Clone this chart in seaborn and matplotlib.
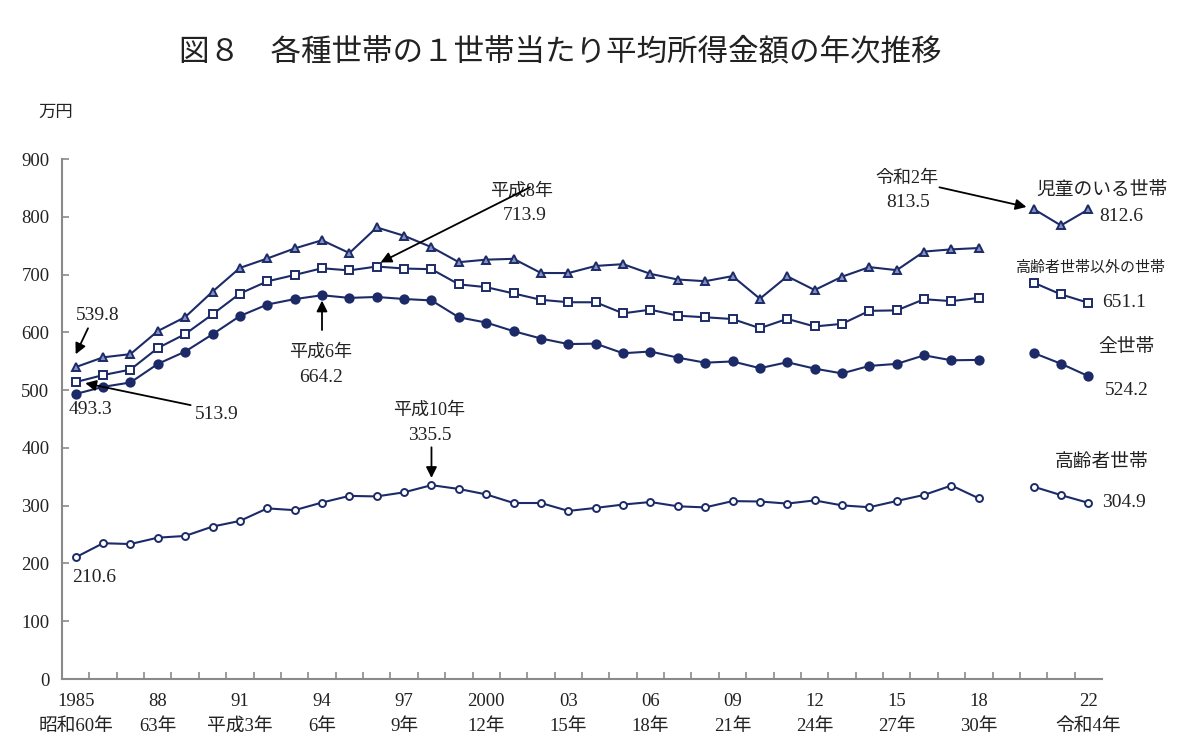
import numpy as np
import pandas as pd
import matplotlib
matplotlib.use("Agg")
import matplotlib.pyplot as plt
import seaborn as sns

years = list(range(1985, 2023))

# 2019 is missing (no survey), kept as NaN to break the line
children = [539.8, 556.7, 562.3, 602.2, 626.4, 670.4, 711.5, 727.8, 745.2, 759.4,
            737.2, 781.6, 767.1, 747.4, 721.4, 725.8, 727.2, 702.7, 702.6, 714.9,
            718.0, 701.2, 691.4, 688.5, 697.3, 658.1, 697.0, 673.2, 696.3, 712.9,
            707.6, 739.8, 743.6, 745.9, np.nan, 813.5, 785.0, 812.6]
non_elderly = [513.9, 526.0, 535.5, 572.8, 597.0, 631.2, 667.1, 688.2, 699.3, 710.9,
               707.2, 713.9, 710.4, 709.3, 683.0, 678.2, 667.3, 656.3, 652.1, 652.0,
               632.9, 639.2, 628.8, 626.1, 623.0, 607.2, 623.3, 610.1, 614.7, 637.2,
               638.0, 657.3, 654.0, 659.6, np.nan, 686.0, 665.7, 651.1]
all_households = [493.3, 505.6, 513.2, 545.3, 566.7, 596.6, 628.2, 648.1, 657.5, 664.2,
                  659.6, 661.2, 657.7, 655.2, 626.0, 616.9, 602.0, 589.3, 579.7, 580.4,
                  563.8, 566.8, 556.2, 547.5, 549.6, 538.0, 548.2, 537.2, 528.9, 541.9,
                  545.4, 560.2, 551.6, 552.3, np.nan, 564.3, 545.7, 524.2]
elderly = [210.6, 235.0, 233.6, 244.6, 247.6, 263.8, 273.6, 295.3, 292.2, 305.4,
           316.9, 316.0, 323.1, 335.5, 328.9, 319.5, 304.6, 304.6, 290.9, 296.1,
           301.9, 306.3, 298.9, 297.0, 307.9, 307.2, 303.6, 309.1, 300.5, 297.3,
           308.1, 318.6, 334.9, 312.6, np.nan, 332.9, 318.3, 304.9]

tick_years = [1985, 1988, 1991, 1994, 1997, 2000, 2003, 2006, 2009, 2012, 2015, 2018, 2022]
tick_labels = ["1985\n昭和60年", "88\n63年", "91\n平成3年", "94\n6年", "97\n9年",
               "2000\n12年", "03\n15年", "06\n18年", "09\n21年", "12\n24年",
               "15\n27年", "18\n30年", "22\n令和4年"]

navy = "#1c2b68"
gray = "#8a8a8a"
ink = "#222222"

sns.set_theme(style="white")
plt.rcParams["font.family"] = ["Liberation Serif", "Noto Sans CJK JP"]

fig = plt.figure(figsize=(12, 7.47), dpi=100)
ax = fig.add_axes([62 / 1200, 68 / 747, 1040 / 1200, 520 / 747])

series = [
    ("児童のいる世帯", children, dict(marker="^", markersize=5.5, markerfacecolor="#8593c4")),
    ("高齢者世帯以外の世帯", non_elderly, dict(marker="s", markersize=5.3, markerfacecolor="white")),
    ("全世帯", all_households, dict(marker="o", markersize=6, markerfacecolor=navy)),
    ("高齢者世帯", elderly, dict(marker="o", markersize=5, markerfacecolor="white")),
]

for name, vals, style in series:
    df = pd.DataFrame({"year": years, "value": vals})
    df["seg"] = (df["year"] > 2019).astype(int)
    df = df.dropna()
    sns.lineplot(data=df, x="year", y="value", units="seg", estimator=None,
                 color=navy, lw=1.5, markeredgecolor=navy, markeredgewidth=1.4,
                 ax=ax, legend=False, **style)

ax.set_xlim(1984.5, 2022.5)
ax.set_ylim(0, 900)
ax.set_yticks(range(0, 901, 100))
ax.set_xticks(tick_years)
ax.set_xticklabels(tick_labels)
ax.set_xticks(np.arange(1985.5, 2022.5, 1), minor=True)
ax.set_xlabel("")
ax.set_ylabel("")

for s in ["top", "right"]:
    ax.spines[s].set_visible(False)
for s in ["left", "bottom"]:
    ax.spines[s].set_color(gray)
    ax.spines[s].set_linewidth(1.5)

ax.tick_params(axis="x", which="major", length=0, pad=10, labelsize=13.5, colors=ink)
ax.tick_params(axis="x", which="minor", direction="in", length=5, width=1.2, color=gray, bottom=True)
ax.tick_params(axis="y", direction="in", length=5, width=1.2, color=gray, left=True,
               pad=9, labelsize=13.5, labelcolor=ink)
for t in ax.get_xticklabels():
    t.set_linespacing(1.6)

fig.text(0.467, 1 - 53 / 747, "図８　各種世帯の１世帯当たり平均所得金額の年次推移",
         ha="center", va="center", fontsize=22, color=ink)
fig.text(56 / 1200, 1 - 113 / 747, "万円", ha="center", va="center", fontsize=12.5, color=ink)

num = dict(ha="center", va="center", fontsize=14, color=ink)
lab = dict(ha="center", va="center", fontsize=13, color=ink, linespacing=1.45)
arrow = dict(arrowstyle="-|>", color="black", lw=1.3, mutation_scale=16, shrinkA=0, shrinkB=0)

# annotations
ax.text(1985.82, 630, "539.8", **num)
ax.annotate("", xy=(1985.0, 562), xytext=(1985.45, 607), arrowprops=arrow)
ax.text(1985.55, 466, "493.3", **num)
ax.text(1990.16, 457, "513.9", **num)
ax.annotate("", xy=(1985.35, 512), xytext=(1989.2, 474), arrowprops=arrow)
ax.text(1993.95, 566, "平成6年", **lab)
ax.text(1993.95, 521, "664.2", **num)
ax.annotate("", xy=(1994, 655), xytext=(1994, 604), arrowprops=arrow)
ax.text(2001.3, 845, "平成8年", **lab)
ax.text(2001.4, 803, "713.9", **num)
ax.annotate("", xy=(1996.14, 721), xytext=(2001.6, 851), arrowprops=arrow)
ax.text(1997.9, 466, "平成10年", **lab)
ax.text(1997.95, 421, "335.5", **num)
ax.annotate("", xy=(1998, 348), xytext=(1998, 401), arrowprops=arrow)
ax.text(2015.36, 867, "令和2年", **lab)
ax.text(2015.43, 825, "813.5", **num)
ax.annotate("", xy=(2019.74, 817), xytext=(2016.56, 851), arrowprops=arrow)
ax.text(1985.67, 175, "210.6", **num)

# series labels at right
ax.text(2022.5, 846, "児童のいる世帯", ha="center", va="center", fontsize=13.5, color=ink)
ax.text(2023.2, 800, "812.6", **num)
ax.text(2022.05, 711, "高齢者世帯以外の世帯", ha="center", va="center", fontsize=10.8, color=ink)
ax.text(2023.3, 651, "651.1", **num)
ax.text(2023.38, 573, "全世帯", ha="center", va="center", fontsize=13.5, color=ink)
ax.text(2023.4, 500, "524.2", **num)
ax.text(2022.47, 374, "高齢者世帯", ha="center", va="center", fontsize=13.5, color=ink)
ax.text(2023.3, 305, "304.9", **num)

fig.savefig("out.png", dpi=100)
